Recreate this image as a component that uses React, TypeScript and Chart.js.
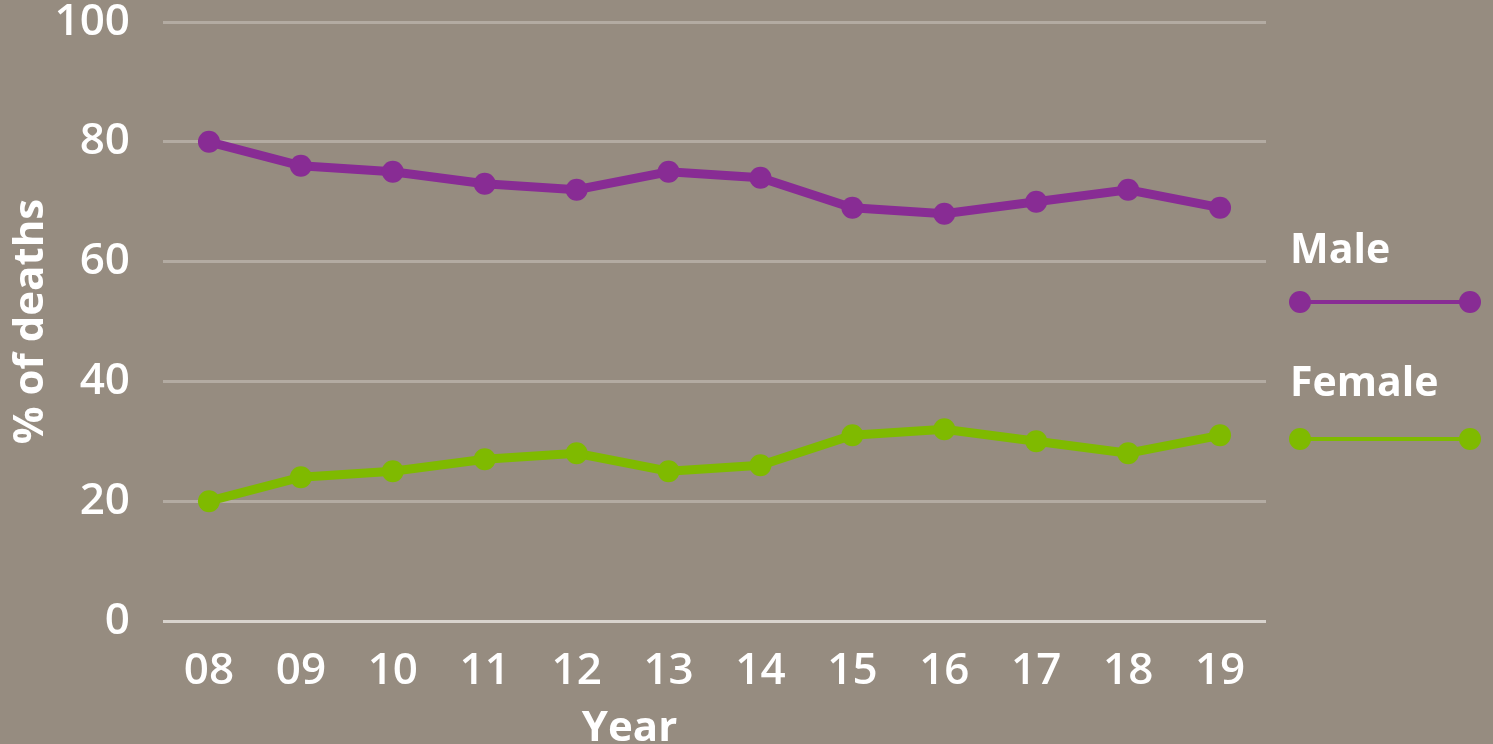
import React, { useEffect, useRef } from "react";
import { Chart, registerables } from "chart.js";

Chart.register(...registerables);

const years = ["08", "09", "10", "11", "12", "13", "14", "15", "16", "17", "18", "19"];
const maleValues = [80, 76, 75, 73, 72, 75, 74, 69, 68, 70, 72, 69];
const femaleValues = [20, 24, 25, 27, 28, 25, 26, 31, 32, 30, 28, 31];
const yTicks = [0, 20, 40, 60, 80, 100];
const yTitle = "% of deaths";
const xTitle = "Year";

const BG = "#968c80";
const PURPLE = "#882c94";
const GREEN = "#7fba00";
const FONT = "'Open Sans', 'Noto Sans', sans-serif";

const legendTextY = [251, 384];
const legendLineY = [302, 439];

const sideLegend = {
  id: "sideLegend",
  afterDraw(chart: any) {
    const { ctx, chartArea } = chart;
    ctx.save();
    chart.data.datasets.forEach((ds: any, i: number) => {
      const textY = legendTextY[i];
      const lineY = legendLineY[i];
      ctx.fillStyle = "#ffffff";
      ctx.font = `700 41px ${FONT}`;
      ctx.textAlign = "left";
      ctx.textBaseline = "middle";
      ctx.fillText(ds.label, chartArea.right + 24, textY);
      const x1 = chartArea.right + 34;
      const x2 = chartArea.right + 204;
      ctx.strokeStyle = ds.borderColor;
      ctx.lineWidth = 4;
      ctx.beginPath();
      ctx.moveTo(x1, lineY);
      ctx.lineTo(x2, lineY);
      ctx.stroke();
      ctx.fillStyle = ds.borderColor;
      [x1, x2].forEach((x) => {
        ctx.beginPath();
        ctx.arc(x, lineY, 11, 0, Math.PI * 2);
        ctx.fill();
      });
    });
    // x title
    ctx.fillStyle = "#ffffff";
    ctx.font = `700 42px ${FONT}`;
    ctx.textAlign = "center";
    ctx.textBaseline = "alphabetic";
    ctx.fillText(xTitle, chartArea.left + chartArea.width * 0.423, 741);
    ctx.restore();
  },
};

export default function App() {
  const ref = useRef<HTMLCanvasElement>(null);
  useEffect(() => {
    document.body.style.margin = "0";
    const chart = new Chart(ref.current!, {
      type: "line",
      data: {
        labels: years,
        datasets: [
          {
            label: "Male",
            data: maleValues,
            borderColor: PURPLE,
            backgroundColor: PURPLE,
            borderWidth: 9,
            pointRadius: 11,
            pointHoverRadius: 11,
            pointBorderWidth: 0,
            tension: 0,
          },
          {
            label: "Female",
            data: femaleValues,
            borderColor: GREEN,
            backgroundColor: GREEN,
            borderWidth: 9,
            pointRadius: 11,
            pointHoverRadius: 11,
            pointBorderWidth: 0,
            tension: 0,
          },
        ],
      },
      options: {
        animation: false,
        responsive: true,
        maintainAspectRatio: false,
        layout: { padding: { top: 0, right: 227, bottom: 0, left: 0 } },
        plugins: { legend: { display: false }, tooltip: { enabled: false } },
        scales: {
          x: {
            offset: true,
            grid: { display: false, drawTicks: false },
            border: { display: false },
            ticks: {
              color: "#ffffff",
              padding: 28,
              maxRotation: 0,
              autoSkip: false,
              font: { family: FONT, size: 44, weight: 600 as any, lineHeight: 1.0 },
            },
            afterFit: (scale: any) => {
              scale.height = 123;
              scale.paddingLeft = 0;
              scale.paddingRight = 0;
            },
          },
          y: {
            min: 0,
            max: 100,
            afterBuildTicks: (scale: any) => {
              scale.ticks = yTicks.map((v) => ({ value: v }));
            },
            grid: {
              drawTicks: false,
              lineWidth: 3,
              color: (c: any) => (c.tick && c.tick.value === 0 ? "#d8d3cd" : "#b3aba2"),
            },
            border: { display: false },
            ticks: {
              color: "#ffffff",
              padding: 33,
              font: { family: FONT, size: 44, weight: 600 as any, lineHeight: 1.0 },
            },
            title: {
              display: true,
              text: yTitle,
              color: "#ffffff",
              padding: { top: 7, bottom: 4 },
              font: { family: FONT, size: 42, weight: 700 as any, lineHeight: 1.15 },
            },
            afterFit: (scale: any) => {
              scale.width = 163;
              scale.paddingTop = 22;
              scale.paddingBottom = 0;
            },
          },
        },
      },
      plugins: [sideLegend],
    });
    return () => chart.destroy();
  }, []);
  return (
    <div style={{ position: "fixed", left: 0, top: 0, width: 1493, height: 744, background: BG }}>
      <canvas ref={ref} />
    </div>
  );
}
